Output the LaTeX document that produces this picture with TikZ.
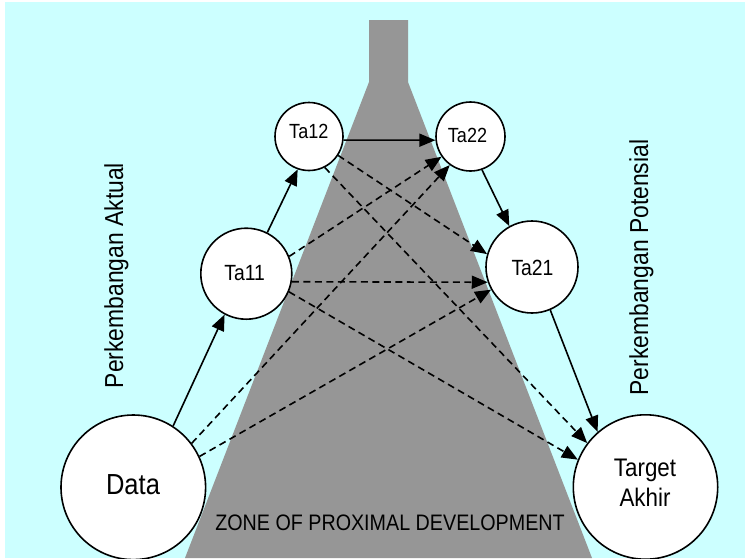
\documentclass[tikz,border=0pt]{standalone}
\usepackage{fontspec}
\newfontfamily\nar[FakeStretch=0.88]{Liberation Sans}
\usetikzlibrary{arrows.meta}
\definecolor{skyfill}{HTML}{CCFFFF}
\definecolor{zonegrey}{HTML}{969696}

\begin{document}
\begin{tikzpicture}[x=1pt,y=-1pt,
  stage/.style={circle,draw=black,line width=1.6pt,fill=white,inner sep=0pt},
  lbl/.style={inner sep=0pt,anchor=base},
  link/.style={line width=1.6pt,-{Triangle[length=16pt,width=13pt]}},
  cross/.style={link,dash pattern=on 7pt off 4.5pt},
  ]
\useasboundingbox (0,0) rectangle (746,558);

% background and the funnel of the zone
\fill[skyfill] (5,2) rectangle (745,558);
\fill[zonegrey] (369,20) -- (408,20) -- (408,82) -- (592,558)
  -- (185,558) -- (369,82) -- cycle;

% stages
\node[stage,minimum size=144.6pt] (data)   at (133.3,487.3) {};
\node[stage,minimum size=91pt]    (ta11)   at (246.3,273.7) {};
\node[stage,minimum size=68pt]    (ta12)   at (309,136.5)   {};
\node[stage,minimum size=69pt]    (ta22)   at (470.5,136.5) {};
\node[stage,minimum size=92pt]    (ta21)   at (532,267)     {};
\node[stage,minimum size=144.4pt] (target) at (645.5,487)   {};

% stage labels
\node[lbl,font=\nar\fontsize{29}{30}\selectfont] (dataT) at (133,494) {Data};
\node[lbl,font=\nar\fontsize{22}{24}\selectfont] (ta11T) at (244.7,280.7) {Ta11};
\node[lbl,font=\nar\fontsize{20.5}{22}\selectfont] (ta12T) at (308.8,138.3) {Ta12};
\node[lbl,font=\nar\fontsize{20.5}{22}\selectfont] (ta22T) at (467.5,142.7) {Ta22};
\node[lbl,font=\nar\fontsize{22}{24}\selectfont] (ta21T) at (532.5,275) {Ta21};
\node[lbl,font=\nar\fontsize{25.4}{30}\selectfont] (targetT) at (645,476.7) {Target};
\node[lbl,font=\nar\fontsize{25.4}{30}\selectfont] (targetB) at (645,506.7) {Akhir};

% side captions and zone caption
\node[lbl,rotate=90,font=\nar\fontsize{26}{28}\selectfont] (aktual) at (123,275.5) {Perkembangan Aktual};
\node[lbl,rotate=90,font=\nar\fontsize{26}{28}\selectfont] (potensial) at (648,267.5) {Perkembangan Potensial};
\node[lbl,font=\nar\fontsize{22.4}{24}\selectfont] (zpd) at (390,530) {ZONE OF PROXIMAL DEVELOPMENT};

% direct path
\draw[link] (data.57) -- (ta11.242);
\draw[link] (ta11.63) -- (ta12.251);
\draw[link] (ta12.-6) -- (ta22.186);
\draw[link] (ta22.-71.5) -- (ta21.119);
\draw[link] (ta21.-67.6) -- (target.131.4);

% shortcuts across the zone
\draw[cross] (data.37.7) -- (ta22.234);
\draw[cross] (data.25) -- (ta21.209);
\draw[cross] (ta11.22.4) -- (ta22.215);
\draw[cross] (ta11.-10) -- (ta21.199);
\draw[cross] (ta11.-23) -- (target.158.2);
\draw[cross] (ta12.-33.5) -- (ta21.164.9);
\draw[cross] (ta12.-63.4) -- (target.143.7);
\end{tikzpicture}
\end{document}
